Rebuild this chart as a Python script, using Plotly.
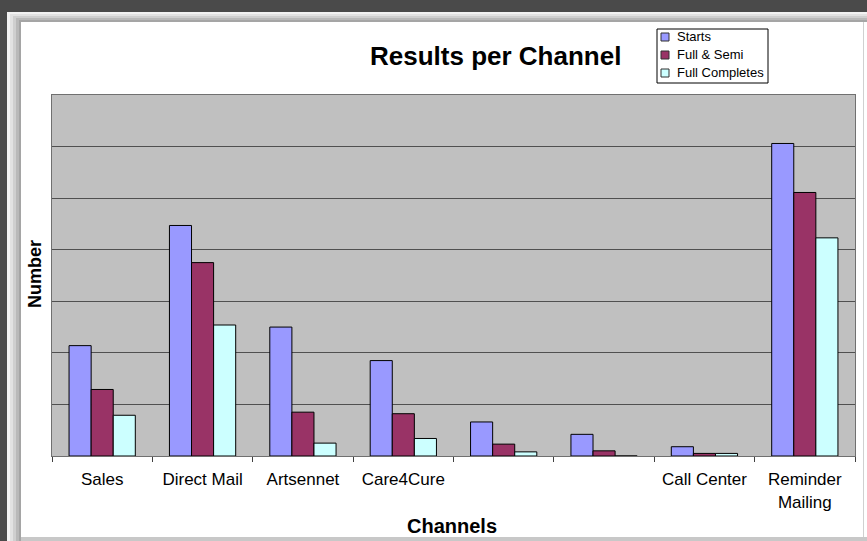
import plotly.graph_objects as go

# Channels along the x axis (two channels carry no label)
categories = ["Sales", "Direct Mail", "Artsennet", "Care4Cure", " ", "  ",
              "Call Center", "Reminder<br>Mailing"]

starts = [214, 447, 250, 185, 66, 42, 18, 606]
full_semi = [129, 375, 85, 82, 23, 10, 5, 511]
full_completes = [79, 254, 25, 34, 8, 0, 5, 423]

series_names = ["Starts", "Full & Semi", "Full Completes"]
series_values = [starts, full_semi, full_completes]
series_colors = ["#9999FF", "#993366", "#CCFFFF"]

FONT = "Liberation Sans, Arial, sans-serif"
W, H = 867, 541
ML, MR, MT, MB = 52, 12, 95, 85
PW, PH = W - ML - MR, H - MT - MB


def px_x(p):
    return (p - ML) / PW


def px_y(p):
    return (H - MB - p) / PH


fig = go.Figure()
for name, vals, color in zip(series_names, series_values, series_colors):
    fig.add_trace(go.Bar(
        x=categories, y=vals, name=name,
        marker=dict(color=color, line=dict(color="black", width=1)),
    ))

shapes = []
annotations = []


def rect(x0, y0, x1, y1, color, line=None):
    shapes.append(dict(type="rect", xref="paper", yref="paper",
                       x0=px_x(x0), x1=px_x(x1), y0=px_y(y0), y1=px_y(y1),
                       fillcolor=color,
                       line=line if line else dict(width=0), layer="above"))


# Window frame with an inset shadow around the white chart sheet
steps = [(7, 12, "#f2f2f2"), (10, 14, "#e2e2e2"), (13, 16, "#cfcfcf"),
         (16, 18, "#b9b9b9"), (19, 20, "#a5a5a5")]
for i, (sx, sy, col) in enumerate(steps):
    ex = steps[i + 1][0] if i + 1 < len(steps) else 21
    ey = steps[i + 1][1] if i + 1 < len(steps) else 22
    rect(sx, sy, W, ey, col)      # top strip
    rect(sx, sy, ex, H, col)      # left strip
rect(0, 0, W, 12, "#4a4a4a")
rect(0, 0, 7, H, "#4a4a4a")
rect(21, 537, W, H, "#c8c8c8")
rect(863, 22, 864, 537, "#d0d0d0")

# Boxed legend in the top-right corner
rect(657, 29, 768, 83, "white", dict(color="black", width=1))
for i, (name, color) in enumerate(zip(series_names, series_colors)):
    cy = 37 + 18 * i
    rect(661, cy - 4, 669, cy + 4, color, dict(color="#303030", width=1))
    annotations.append(dict(
        text=name, x=px_x(675), y=px_y(cy), xref="paper", yref="paper",
        xanchor="left", yanchor="middle", showarrow=False,
        font=dict(family=FONT, size=13, color="black")))

annotations += [
    dict(text="<b>Results per Channel</b>", x=px_x(495), y=px_y(56),
         xref="paper", yref="paper", xanchor="center", yanchor="middle",
         showarrow=False, font=dict(family=FONT, size=26, color="black")),
    dict(text="<b>Number</b>", x=px_x(35), y=px_y(274),
         xref="paper", yref="paper", xanchor="center", yanchor="middle",
         showarrow=False, textangle=-90,
         font=dict(family=FONT, size=18, color="black")),
    dict(text="<b>Channels</b>", x=px_x(452), y=px_y(526),
         xref="paper", yref="paper", xanchor="center", yanchor="middle",
         showarrow=False, font=dict(family=FONT, size=20, color="black")),
]

fig.update_layout(
    width=W, height=H,
    margin=dict(l=ML, r=MR, t=MT, b=MB, autoexpand=False),
    paper_bgcolor="white",
    plot_bgcolor="#C0C0C0",
    barmode="group",
    bargap=0.34,
    bargroupgap=0,
    font=dict(family=FONT, color="black"),
    shapes=shapes,
    annotations=annotations,
    showlegend=False,
    xaxis=dict(
        type="category",
        tickson="boundaries",
        ticks="outside", ticklen=5, tickcolor="#404040", tickwidth=1,
        tickfont=dict(family=FONT, size=17, color="black"),
        ticklabelstandoff=8,
        showline=True, linecolor="#707070", linewidth=1, mirror=True,
        showgrid=False, zeroline=False,
    ),
    yaxis=dict(
        range=[0, 700], dtick=100,
        showticklabels=False, ticks="",
        showgrid=True, gridcolor="#505050", gridwidth=1,
        showline=True, linecolor="#707070", linewidth=1, mirror=True,
        zeroline=False,
    ),
)

fig.write_html("out.html")
